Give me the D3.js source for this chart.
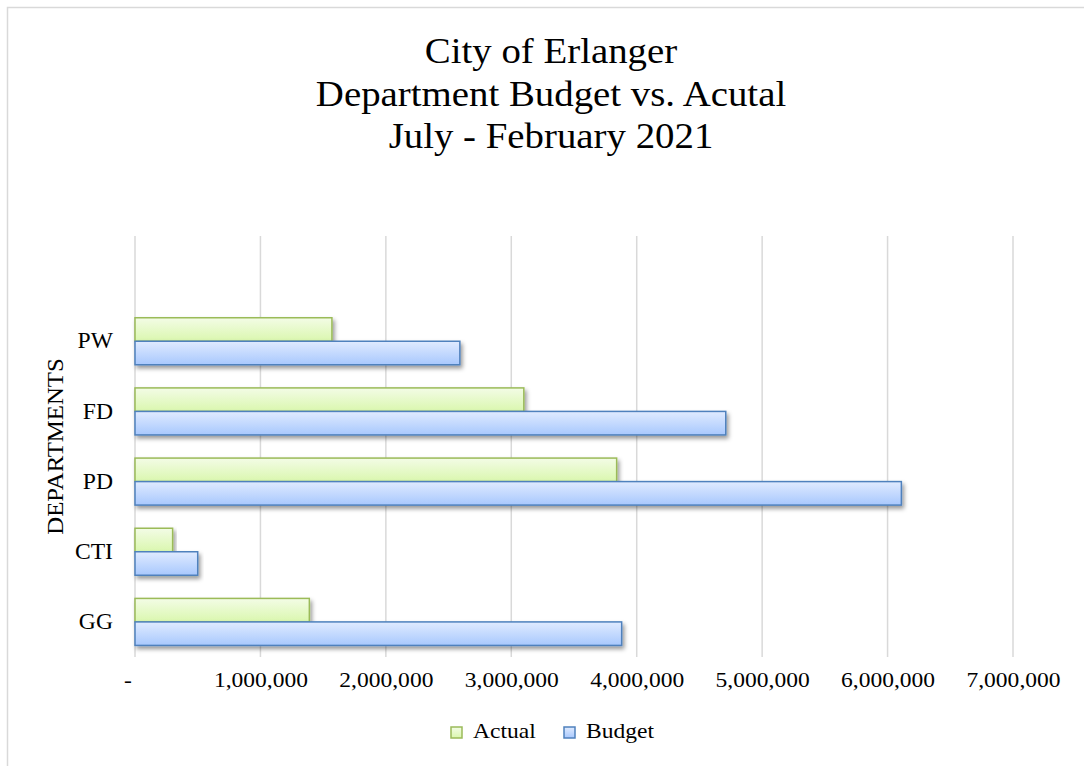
<!DOCTYPE html>
<html>
<head>
<meta charset="utf-8">
<script src="https://cdn.jsdelivr.net/npm/d3@7"></script>
<style>
  html, body { margin: 0; padding: 0; background: #fff; }
  svg { display: block; }
  text { font-family: "Liberation Serif", "Times New Roman", serif; fill: #000; }
</style>
</head>
<body>
<svg id="chart" width="1084" height="766"></svg>
<script>
// chart data
const titleLines = ['City of Erlanger', 'Department Budget vs. Acutal', 'July - February 2021'];
const departments = ['GG', 'CTI', 'PD', 'FD', 'PW', ''];
const actual = [1390000, 300000, 3840000, 3100000, 1570000, null];
const budget = [3880000, 500000, 6110000, 4710000, 2590000, null];
const seriesNames = ['Actual', 'Budget'];
const tickValues = [0, 1000000, 2000000, 3000000, 4000000, 5000000, 6000000, 7000000];
const tickLabels = ['-', '1,000,000', '2,000,000', '3,000,000', '4,000,000', '5,000,000', '6,000,000', '7,000,000'];

const svg = d3.select('#chart');
const W = 1084, H = 766;
const margin = { top: 236, right: 71, bottom: 109, left: 135 };
const innerH = H - margin.top - margin.bottom;
const serif = '"Liberation Serif", "Times New Roman", serif';

// defs: gradients + shadow
const defs = svg.append('defs');
const grads = [
    { id: 'gActual', top: '#f3fce6', bottom: '#daf7ae' },
    { id: 'gBudget', top: '#e0ebff', bottom: '#a8c8fd' }
];
grads.forEach(g => {
    const lg = defs.append('linearGradient').attr('id', g.id)
        .attr('x1', 0).attr('y1', 0).attr('x2', 0).attr('y2', 1);
    lg.append('stop').attr('offset', '0%').attr('stop-color', g.top);
    lg.append('stop').attr('offset', '100%').attr('stop-color', g.bottom);
});
const shadow = defs.append('filter').attr('id', 'shadow')
    .attr('x', '-5%').attr('y', '-30%').attr('width', '115%').attr('height', '180%');
shadow.append('feDropShadow').attr('dx', 2).attr('dy', 3)
    .attr('stdDeviation', 2).attr('flood-color', '#000').attr('flood-opacity', 0.4);

// outer border (only top/left visible in the crop)
svg.append('rect')
    .attr('x', 7.5).attr('y', 7.5).attr('width', W + 20).attr('height', H + 20)
    .attr('fill', 'none').attr('stroke', '#d9d9d9').attr('stroke-width', 1.5);

// title (source text is a little wide, so stretch it horizontally)
svg.selectAll('text.title')
    .data(titleLines)
    .join('text')
    .attr('class', 'title')
    .attr('text-anchor', 'middle')
    .attr('font-size', 35)
    .attr('transform', (d, i) => `translate(551,${63 + i * 42.5}) scale(1.11,1)`)
    .text(d => d);

const g = svg.append('g').attr('transform', `translate(${margin.left},${margin.top})`);

const x = d3.scaleLinear().domain([0, 7000000]).range([0, 878]);
const y0 = d3.scaleBand().domain(departments).range([innerH, 0])
    .paddingInner(0.33).paddingOuter(0.165);
const y1 = d3.scaleBand().domain(seriesNames).range([0, y0.bandwidth()]);

// gridlines
g.append('g')
    .selectAll('line')
    .data(tickValues)
    .join('line')
    .attr('x1', d => x(d)).attr('x2', d => x(d))
    .attr('y1', 0).attr('y2', innerH)
    .attr('stroke', '#d9d9d9').attr('stroke-width', 1.5);

// x tick labels
const xAxis = d3.axisBottom(x)
    .tickValues(tickValues)
    .tickFormat((d, i) => tickLabels[i])
    .tickSize(0)
    .tickPadding(14);
const xg = g.append('g').attr('transform', `translate(0,${innerH})`).call(xAxis);
xg.select('.domain').remove();
xg.selectAll('text')
    .attr('font-size', 22)
    .style('font-family', serif)
    .attr('dx', (d, i) => i === 0 ? -7 : 0)
    .attr('transform', 'scale(1.07,1)');

// y category labels
const yAxis = d3.axisLeft(y0).tickSize(0).tickPadding(21);
const yg = g.append('g').call(yAxis);
yg.select('.domain').remove();
yg.selectAll('text')
    .attr('font-size', 22.5)
    .style('font-family', serif)
    .attr('transform', 'scale(1.05,1)');

// y axis title
svg.append('text')
    .attr('transform', `translate(63,${margin.top + innerH / 2}) rotate(-90) scale(1.1,1)`)
    .attr('text-anchor', 'middle')
    .attr('font-size', 22.5)
    .text('DEPARTMENTS');

// bars
const rows = departments.map((d, i) => ({ dept: d, values: [actual[i], budget[i]] }));
const styles = [
    { fill: 'url(#gActual)', stroke: '#9bbb59' },
    { fill: 'url(#gBudget)', stroke: '#4f81bd' }
];

const groups = g.append('g')
    .selectAll('g')
    .data(rows)
    .join('g')
    .attr('transform', d => `translate(0,${y0(d.dept)})`);

groups.selectAll('rect')
    .data(d => d.values.map((v, k) => ({ k, v })).filter(e => e.v !== null))
    .join('rect')
    .attr('x', x(0))
    .attr('y', d => y1(seriesNames[d.k]))
    .attr('width', d => x(d.v) - x(0))
    .attr('height', y1.bandwidth())
    .attr('fill', d => styles[d.k].fill)
    .attr('stroke', d => styles[d.k].stroke)
    .attr('stroke-width', 1.5)
    .attr('filter', 'url(#shadow)');

// legend
const legend = svg.append('g').attr('transform', 'translate(451,727)');
const legendX = [0, 113];
seriesNames.forEach((name, k) => {
    const item = legend.append('g').attr('transform', `translate(${legendX[k]},0)`);
    item.append('rect')
        .attr('x', 0).attr('y', 0).attr('width', 11).attr('height', 11)
        .attr('fill', styles[k].fill).attr('stroke', styles[k].stroke).attr('stroke-width', 1.5);
    item.append('text')
        .attr('transform', 'translate(22,11) scale(1.07,1)')
        .attr('font-size', 22)
        .text(name);
});
</script>
</body>
</html>
